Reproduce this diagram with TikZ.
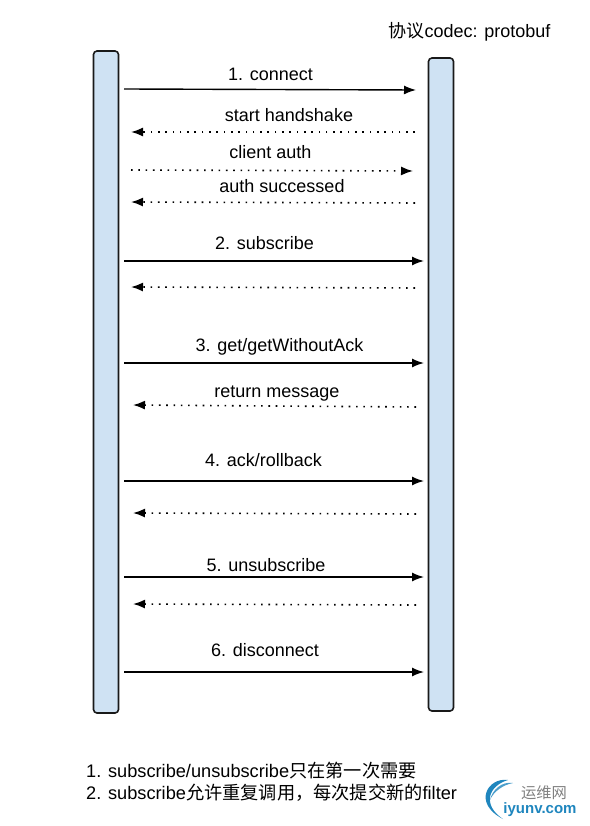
\documentclass[tikz,border=0pt]{standalone}
\usepackage{fontspec}
\setmainfont{Liberation Sans}
\newfontfamily\cjk{Noto Sans CJK SC}
\usetikzlibrary{arrows.meta}
\definecolor{barfill}{HTML}{CFE2F3}
\definecolor{logoblue}{HTML}{1F86BE}
\tikzset{
  x=1pt,y=-1pt,
  bar/.style={draw=black!90,line width=1.6pt,fill=barfill,rounded corners=3.5pt,minimum width=25pt,inner sep=0pt},
  solidarrow/.style={line width=1.4pt,black,-{Latex[length=12pt,width=9pt]}},
  dotarrow/.style={line width=1.6pt,black,dash pattern=on 1.6pt off 5.7pt,-{Latex[length=12pt,width=9pt]}},
  lab/.style={font=\fontsize{18}{20}\selectfont,inner sep=0pt,anchor=base},
  note/.style={font=\fontsize{18.2}{20}\selectfont,inner sep=0pt,anchor=base west},
}
\begin{document}
\begin{tikzpicture}
\useasboundingbox (0,0) rectangle (589,826);
\node[bar,minimum height=662pt] (L) at (106,382) {};
\node[bar,minimum height=653pt] (R) at (441,384.5) {};
% text
\node[lab] (title) at (469.5,38) {{\cjk 协议}codec: protobuf};
\node[lab] (t1) at (270.5,81) {1. connect};
\node[lab] (t2) at (289,122) {start handshake};
\node[lab] (t3) at (270.5,159) {client auth};
\node[lab] (t4) at (282,193) {auth successed};
\node[lab] (t5) at (264.5,249) {2. subscribe};
\node[lab] (t6) at (279.5,351) {3. get/getWithoutAck};
\node[lab] (t7) at (277,397) {return message};
\node[lab] (t8) at (263.5,466) {4. ack/rollback};
\node[lab] (t9) at (266,571) {5. unsubscribe};
\node[lab] (t10) at (265,656) {6. disconnect};
\node[note] (n1) at (86,777) {1. subscribe/unsubscribe{\cjk 只在第一次需要}};
\node[note] (n2) at (86,799) {2. subscribe{\cjk 允许重复调用，每次提交新的}filter};
% arrow ends
\foreach \n/\xa/\ya/\xb/\yb in {
  a/124/89/416/90, b/415/132/131/132, c/131/170/413/171, d/415/203/131/202,
  e/124/261/424/261, f/415/288/131/287, g/124/363/424/363, h/416/407/133/405,
  i/124/481/424/481, j/416/514/133/513, k/124/577/424/577, l/416/605/133/604,
  m/124/672/424/672}{
  \coordinate (\n1) at (\xa,\ya);
  \coordinate (\n2) at (\xb,\yb);
}
\foreach \n in {a,e,g,i,k,m} \draw[solidarrow] (\n1) -- (\n2);
\foreach \n in {b,c,d,f,h,j,l} \draw[dotarrow] (\n1) -- (\n2);
% logo
\fill[logoblue] (508,780) .. controls (488,777) and (472,803) .. (503,819)
  .. controls (482,805) and (488,786) .. (508,780) -- cycle;
\fill[logoblue!80] (513,783) .. controls (502,781) and (492,790) .. (490,800)
  .. controls (494,791) and (503,785) .. (513,783) -- cycle;
\node[inner sep=0pt,text=black!50,font=\fontsize{15.3}{16}\cjk] (logo1) at (544,793) {运维网};
\node[inner sep=0pt,text=logoblue,font=\fontsize{15}{16}\selectfont\bfseries] (logo2) at (540,810) {iyunv.com};
\end{tikzpicture}
\end{document}
